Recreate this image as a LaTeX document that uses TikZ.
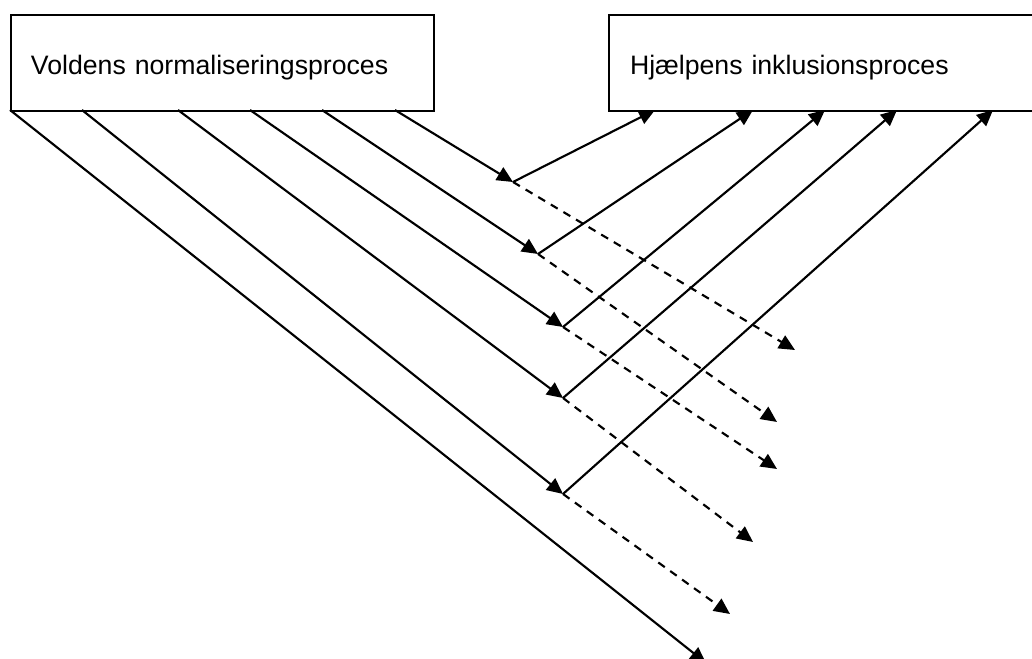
\documentclass[tikz,border=0pt]{standalone}
\usepackage{fontspec}
\setmainfont{Liberation Sans}
\usetikzlibrary{arrows.meta}
\begin{document}
\begin{tikzpicture}[x=0.75pt,y=-0.75pt,
  box/.style={draw, line width=1.5pt, anchor=north west, inner ysep=0pt,
    font=\fontsize{20}{24}\selectfont, align=left, text height=45pt, text depth=27pt},
  conn/.style={line width=1.6pt, -{Triangle[length=12pt,width=11pt]}},
  dconn/.style={conn, dash pattern=on 6pt off 5pt}]
\clip (0,0) rectangle (1032,659);
\node[box, inner xsep=15pt, text width=287pt] (vold) at (10,14) {Voldens normaliseringsproces};
\node[box, inner xsep=15.75pt, text width=289.5pt] (hjaelp) at (608,14) {Hjælpens inklusionsproces};
% start points on the left box
\coordinate (s1) at (395,110);
\coordinate (s2) at (322,110);
\coordinate (s3) at (250,110);
\coordinate (s4) at (178,110);
\coordinate (s5) at (82,110);
\coordinate (s6) at (10,110);
% junctions
\coordinate (j1) at (513,182);
\coordinate (j2) at (538,254);
\coordinate (j3) at (563,327);
\coordinate (j4) at (563,398);
\coordinate (j5) at (563,494);
% arrival points on the right box
\coordinate (h1) at (655,110);
\coordinate (h2) at (753,110);
\coordinate (h3) at (825,110);
\coordinate (h4) at (897,110);
\coordinate (h5) at (993,110);
% dashed ends
\coordinate (d1) at (795,350);
\coordinate (d2) at (777,422);
\coordinate (d3) at (777,469);
\coordinate (d4) at (753,542);
\coordinate (d5) at (730,614);
\coordinate (e6) at (706,663);
\foreach \i in {1,...,5}{
  \draw[conn] (s\i) -- (j\i);
  \draw[conn] (j\i) -- (h\i);
  \draw[dconn] (j\i) -- (d\i);
}
\draw[conn] (s6) -- (e6);
\end{tikzpicture}
\end{document}
